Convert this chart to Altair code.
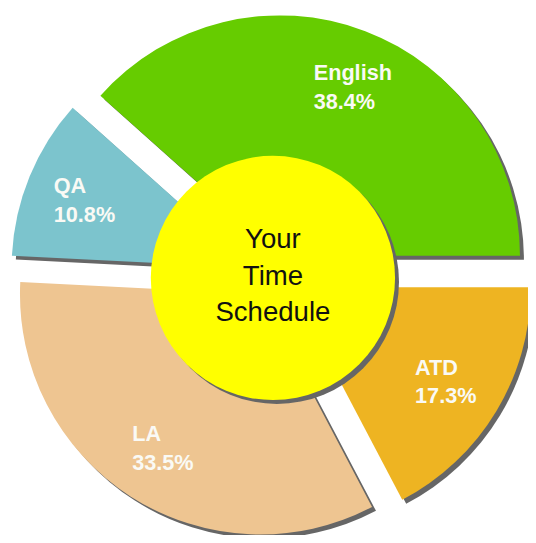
import altair as alt
import pandas as pd

subjects = ["ATD", "LA", "QA", "English"]
shares = [17.3, 33.5, 10.8, 38.4]
colors = ["#EEB422", "#EEC591", "#7CC4CD", "#66CC00"]
center_lines = ["Your", "Time", "Schedule"]

df = pd.DataFrame({"subject": subjects, "share": shares, "order": list(range(len(subjects)))})

CX, CY = 268, 268
EXPLODE = 22
R = 244
LABEL_R = 184
SHADOW = 4
HOLE_X, HOLE_Y = 269, 270
HOLE_R = 124

base = (
    alt.Chart(df)
    .transform_joinaggregate(total="sum(share)")
    .transform_window(cum="sum(share)", sort=[alt.SortField("order")])
    .transform_calculate(start="PI/2 + 2*PI*(datum.cum - datum.share)/datum.total")
    .transform_calculate(end="PI/2 + 2*PI*datum.cum/datum.total")
    .transform_calculate(mid="(datum.start + datum.end)/2")
    .transform_calculate(px=f"{CX} + {EXPLODE}*sin(datum.mid)")
    .transform_calculate(py=f"{CY} - {EXPLODE}*cos(datum.mid)")
    .transform_calculate(sx=f"datum.px + {SHADOW}")
    .transform_calculate(sy=f"datum.py + {SHADOW}")
    .transform_calculate(lx=f"datum.px + {LABEL_R}*sin(datum.mid)")
    .transform_calculate(ly=f"datum.py - {LABEL_R}*cos(datum.mid)")
    .transform_calculate(label="[datum.subject, format(datum.share, '.1f') + '%']")
)

shadow = base.mark_arc(outerRadius=R, color="#666666").encode(
    x=alt.X("sx:Q", scale=None, axis=None),
    y=alt.Y("sy:Q", scale=None, axis=None),
    theta=alt.Theta("start:Q", scale=None),
    theta2="end:Q",
)

slices = base.mark_arc(outerRadius=R).encode(
    x=alt.X("px:Q", scale=None, axis=None),
    y=alt.Y("py:Q", scale=None, axis=None),
    theta=alt.Theta("start:Q", scale=None),
    theta2="end:Q",
    color=alt.Color("subject:N", scale=alt.Scale(domain=subjects, range=colors), legend=None),
)

labels = base.mark_text(
    align="left", baseline="middle", dx=-31, dy=-13, fontSize=22, fontWeight="bold",
    font="Liberation Sans", color="#FAFAF5", lineHeight=29,
).encode(
    x=alt.X("lx:Q", scale=None, axis=None),
    y=alt.Y("ly:Q", scale=None, axis=None),
    text="label:N",
)

center_df = alt.Data(values=[{"t": center_lines}])

hole_shadow = alt.Chart(center_df).mark_arc(
    outerRadius=HOLE_R, theta=0, theta2=6.2832, color="#666666"
).encode(x=alt.value(HOLE_X + SHADOW), y=alt.value(HOLE_Y + SHADOW))

hole = alt.Chart(center_df).mark_arc(
    outerRadius=HOLE_R, theta=0, theta2=6.2832, color="#FFFF00"
).encode(x=alt.value(HOLE_X), y=alt.value(HOLE_Y))

center_text = alt.Chart(center_df).mark_text(
    fontSize=28, font="Liberation Sans", color="#111111", lineHeight=37,
    baseline="middle", align="center", dy=-38,
).encode(x=alt.value(HOLE_X), y=alt.value(HOLE_Y), text="t:N")

chart = (
    alt.layer(shadow, slices, labels, hole_shadow, hole, center_text)
    .properties(width=528, height=527, padding=0, autosize=alt.AutoSizeParams(type="none"))
    .configure_view(strokeWidth=0)
)

chart.save("out.html", embed_options={"renderer": "svg", "actions": False})
